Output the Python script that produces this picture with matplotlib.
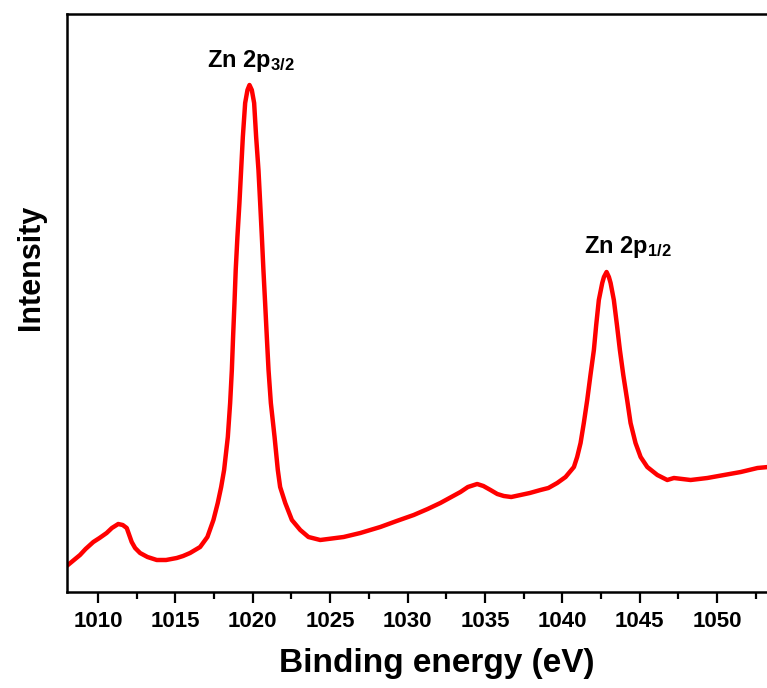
import matplotlib
matplotlib.use("Agg")
import matplotlib.pyplot as plt
from matplotlib.ticker import MultipleLocator

plt.rcParams['font.family'] = ['Liberation Sans', 'DejaVu Sans']
plt.rcParams['font.weight'] = 'bold'
plt.rcParams['mathtext.fontset'] = 'custom'
plt.rcParams['mathtext.bf'] = 'Liberation Sans:bold'
plt.rcParams['mathtext.rm'] = 'Liberation Sans:bold'

# XPS Zn 2p spectrum (arbitrary intensity units)
energy = [1007.98, 1008.84, 1009.20, 1009.70, 1010.10, 1010.56, 1010.90, 1011.31,
          1011.60, 1011.86, 1012.18, 1012.40, 1012.72, 1013.20, 1013.80, 1014.40,
          1015.09, 1015.50, 1015.95, 1016.60, 1017.07, 1017.46, 1017.74, 1017.96,
          1018.15, 1018.39, 1018.54, 1018.65, 1018.73, 1018.82, 1018.90, 1019.01,
          1019.14, 1019.25, 1019.36, 1019.51, 1019.66, 1019.79, 1019.94, 1020.09,
          1020.22, 1020.37, 1020.48, 1020.59, 1020.69, 1020.80, 1020.91, 1021.02,
          1021.17, 1021.41, 1021.62, 1021.77, 1022.10, 1022.53, 1023.07, 1023.60,
          1024.36, 1025.87, 1026.95, 1028.24, 1029.30, 1030.40, 1031.30, 1032.12,
          1033.42, 1033.90, 1034.50, 1034.90, 1035.36, 1035.80, 1036.22, 1036.70,
          1037.30, 1037.90, 1038.59, 1039.10, 1039.67, 1040.21, 1040.75, 1040.96,
          1041.18, 1041.39, 1041.61, 1041.82, 1042.04, 1042.19, 1042.36, 1042.58,
          1042.69, 1042.86, 1043.01, 1043.12, 1043.33, 1043.53, 1043.72, 1043.94,
          1044.19, 1044.41, 1044.73, 1045.06, 1045.49, 1046.14, 1046.78, 1047.21,
          1048.29, 1049.37, 1050.45, 1051.53, 1052.61, 1053.30]
intensity = [34, 45, 51, 58, 62, 67, 72, 76,
             75, 72, 58, 52, 47, 43, 40, 40,
             42, 44, 47, 53, 63, 80, 97, 113,
             130, 163, 197, 230, 263, 297, 330, 363,
             397, 430, 463, 497, 510, 515, 510, 497,
             463, 430, 397, 363, 330, 297, 263, 230,
             197, 163, 130, 113, 97, 80, 70, 63,
             60, 63, 67, 73, 79, 85, 91, 97,
             108, 113, 116, 114, 110, 106, 104, 103,
             105, 107, 110, 112, 117, 123, 133, 143,
             157, 177, 200, 225, 250, 275, 300, 317,
             323, 328, 323, 317, 300, 275, 250, 225,
             200, 177, 157, 143, 133, 125, 120, 122,
             120, 122, 125, 128, 132, 133]

peak_labels = [r'Zn 2p$\mathbf{_{3/2}}$', r'Zn 2p$\mathbf{_{1/2}}$']
peak_label_x = [1017.05, 1041.39]
peak_label_y = [533, 347]

fig = plt.figure(figsize=(7.67, 6.88), dpi=100)
ax = fig.add_axes([67/767, 1 - 592/688, (779 - 67)/767, (592 - 14)/688])

ax.plot(energy, intensity, color='red', lw=3.2, solid_joinstyle='round')

for lab, x, y in zip(peak_labels, peak_label_x, peak_label_y):
    ax.text(x, y, lab, fontsize=17, fontweight='bold', ha='left', va='baseline')

ax.set_xlim(1008, 1054)
ax.set_ylim(8, 586)
ax.xaxis.set_major_locator(MultipleLocator(5))
ax.xaxis.set_minor_locator(MultipleLocator(2.5))
ax.set_yticks([])
ax.tick_params(axis='x', which='major', length=8, width=1.6, labelsize=16, pad=6)
ax.tick_params(axis='x', which='minor', length=5, width=1.6)
for sp in ax.spines.values():
    sp.set_linewidth(1.8)

ax.set_xlabel('Binding energy (eV)', fontsize=24, fontweight='bold')
ax.set_ylabel('Intensity', fontsize=22, fontweight='bold')
ax.xaxis.set_label_coords(0.52, -0.097)
ax.yaxis.set_label_coords(-0.03, 0.562)

fig.savefig('out.png', dpi=100)
